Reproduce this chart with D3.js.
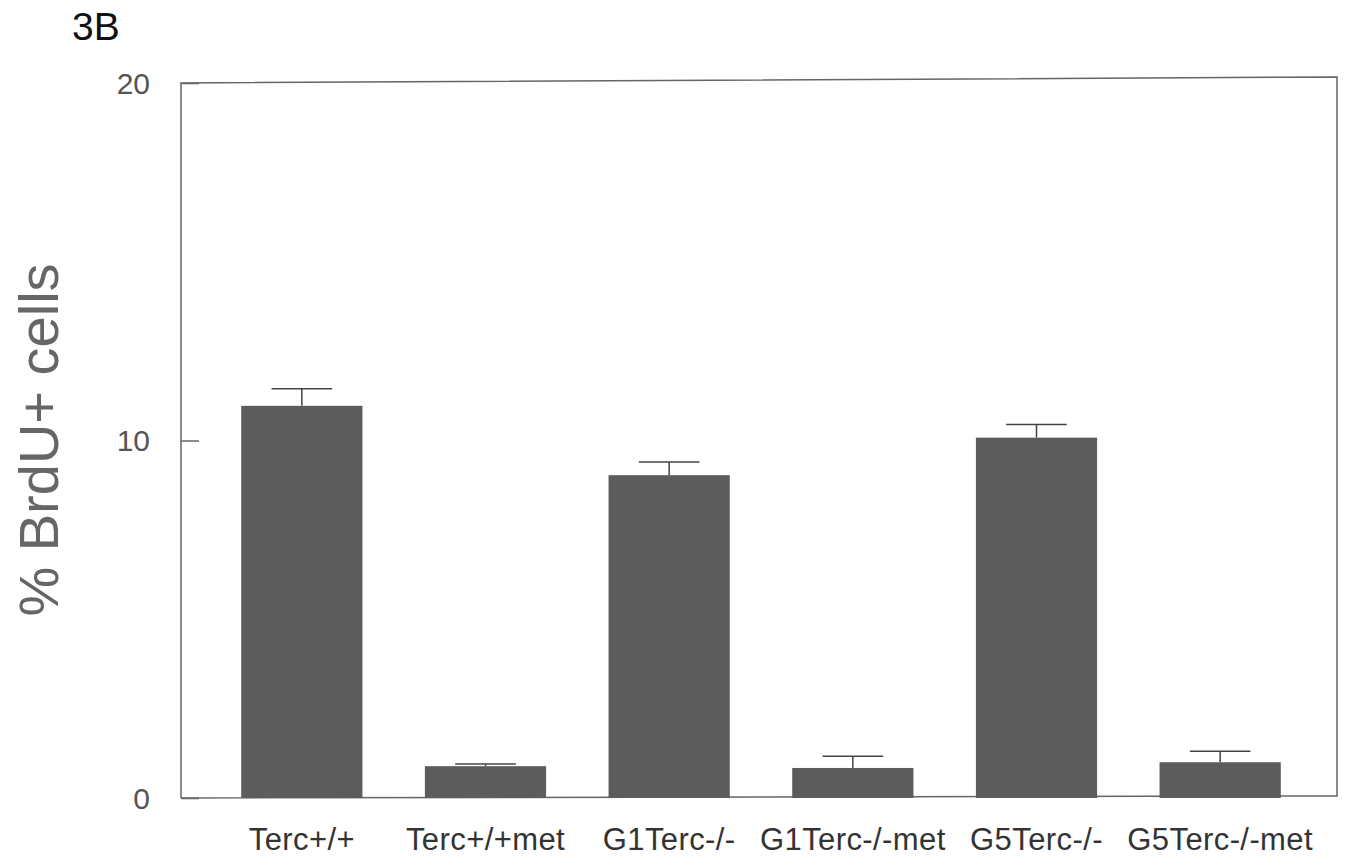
<!DOCTYPE html>
<html>
<head>
<meta charset="utf-8">
<script src="https://cdn.jsdelivr.net/npm/d3@7"></script>
<style>
  body { margin: 0; background: #fff; }
  svg { font-family: "Liberation Sans", Arial, sans-serif; }
</style>
</head>
<body>
<div id="chart"></div>
<script>
var categories = ["Terc+/+", "Terc+/+met", "G1Terc-/-", "G1Terc-/-met", "G5Terc-/-", "G5Terc-/-met"];
var means = [10.97, 0.89, 9.03, 0.84, 10.08, 1.0];
var errors = [0.48, 0.06, 0.37, 0.33, 0.37, 0.31];
var yTicks = [0, 10, 20];

var width = 1346, height = 858;
var plot = { left: 181, right: 1337, top: 83, bottom: 798 };

var svg = d3.select("#chart")
    .append("svg")
    .attr("width", width)
    .attr("height", height);

var data = categories.map(function (c, i) {
    return { name: c, mean: means[i], err: errors[i] };
});

var x = d3.scaleBand()
    .domain(categories)
    .range([210, 1312]);

var barW = x.bandwidth() * 0.66;

var y = d3.scaleLinear()
    .domain([0, 20])
    .range([plot.bottom, plot.top]);

// frame (top edge slightly tilted like the scan)
svg.append("path")
    .attr("d", "M" + plot.left + "," + plot.bottom +
        "V" + plot.top +
        "L" + plot.right + "," + (plot.top - 6) +
        "V" + (plot.bottom - 2) +
        "L" + plot.left + "," + plot.bottom)
    .attr("fill", "none")
    .attr("stroke", "#666")
    .attr("stroke-width", 1.5);

// y axis, ticks pointing inward
var yAxis = svg.append("g")
    .attr("transform", "translate(" + plot.left + ",0)")
    .call(d3.axisRight(y).tickValues(yTicks).tickSize(18).tickFormat(""));
yAxis.select(".domain").remove();
yAxis.selectAll("line").attr("stroke", "#666").attr("stroke-width", 1.5);

svg.selectAll(".ylab")
    .data(yTicks)
    .enter().append("text")
    .attr("x", 150)
    .attr("y", function (d) { return y(d); })
    .attr("dy", "0.36em")
    .attr("text-anchor", "end")
    .attr("font-size", 30)
    .attr("fill", "#555")
    .text(function (d) { return d; });

// bars
svg.selectAll(".bar")
    .data(data)
    .enter().append("rect")
    .attr("x", function (d) { return x(d.name) + (x.bandwidth() - barW) / 2; })
    .attr("y", function (d) { return y(d.mean); })
    .attr("width", barW)
    .attr("height", function (d) { return y(0) - y(d.mean); })
    .attr("fill", "#5c5c5c");

// error bars
var eb = svg.selectAll(".err")
    .data(data)
    .enter().append("g");
eb.append("line")
    .attr("x1", function (d) { return x(d.name) + x.bandwidth() / 2; })
    .attr("x2", function (d) { return x(d.name) + x.bandwidth() / 2; })
    .attr("y1", function (d) { return y(d.mean); })
    .attr("y2", function (d) { return y(d.mean + d.err); })
    .attr("stroke", "#444")
    .attr("stroke-width", 1.5);
eb.append("line")
    .attr("x1", function (d) { return x(d.name) + x.bandwidth() / 2 - barW / 4; })
    .attr("x2", function (d) { return x(d.name) + x.bandwidth() / 2 + barW / 4; })
    .attr("y1", function (d) { return y(d.mean + d.err); })
    .attr("y2", function (d) { return y(d.mean + d.err); })
    .attr("stroke", "#444")
    .attr("stroke-width", 1.5);

// category labels
svg.selectAll(".xlab")
    .data(categories)
    .enter().append("text")
    .attr("x", function (d) { return x(d) + x.bandwidth() / 2; })
    .attr("y", 850)
    .attr("text-anchor", "middle")
    .attr("font-size", 31)
    .attr("letter-spacing", 0.4)
    .attr("fill", "#333")
    .text(function (d) { return d; });

// y axis title
svg.append("text")
    .attr("transform", "translate(58,440) rotate(-90)")
    .attr("text-anchor", "middle")
    .attr("font-size", 56)
    .attr("fill", "#666")
    .text("% BrdU+ cells");

// panel label
svg.append("text")
    .attr("x", 72)
    .attr("y", 40)
    .attr("font-size", 39)
    .attr("fill", "#111")
    .text("3B");
</script>
</body>
</html>
